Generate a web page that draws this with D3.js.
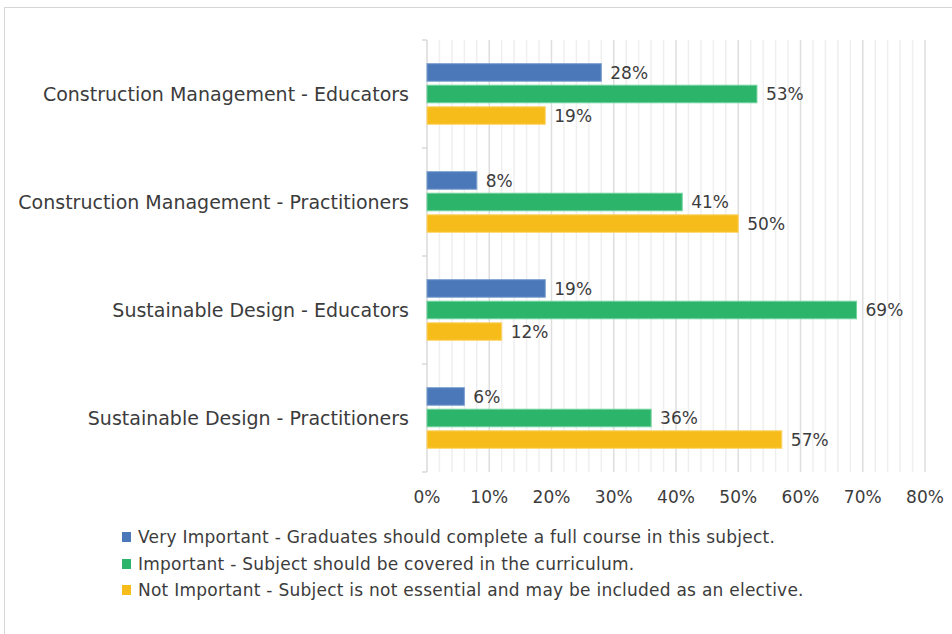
<!DOCTYPE html>
<html>
<head>
<meta charset="utf-8">
<script src="https://cdn.jsdelivr.net/npm/d3@7"></script>
<style>
  html, body { margin: 0; padding: 0; background: #ffffff; }
  svg { display: block; }
  text { font-family: "DejaVu Sans", sans-serif; fill: #3c3c3c; }
</style>
</head>
<body>
<svg id="chart" width="952" height="634"></svg>
<script>
// Survey groups (top to bottom)
const categories = [
  "Construction Management - Educators",
  "Construction Management - Practitioners",
  "Sustainable Design - Educators",
  "Sustainable Design - Practitioners"
];

// Response levels
const seriesNames = [
  "Very Important - Graduates should complete a full course in this subject.",
  "Important - Subject should be covered in the curriculum.",
  "Not Important - Subject is not essential and may be included as an elective."
];

// Share of respondents per group, in percent
const veryImportant = [28, 8, 19, 6];
const important     = [53, 41, 69, 36];
const notImportant  = [19, 50, 12, 57];

const tickValues = [0, 10, 20, 30, 40, 50, 60, 70, 80];

const colors = ["#4a78b8", "#2db46b", "#f6bc1a"];
const strokes = ["#7b9fd0", "#6fd39c", "#fbd56e"];

const seriesValues = [veryImportant, important, notImportant];

const svg = d3.select("#chart");

// outer frame
svg.append("rect")
  .attr("x", 4.5).attr("y", 7.5)
  .attr("width", 1100).attr("height", 800)
  .attr("fill", "none")
  .attr("stroke", "#d6d6d6")
  .attr("stroke-width", 1);

const plot = { left: 427, right: 925, top: 40, bottom: 472 };

const x = d3.scaleLinear().domain([0, 80]).range([plot.left, plot.right]);

const y = d3.scaleBand().domain(categories).range([plot.top, plot.bottom]).padding(0);

const inner = d3.scaleBand()
  .domain(d3.range(seriesNames.length))
  .range([0, y.bandwidth()])
  .paddingInner(0.186)
  .paddingOuter(1.1);

// gridlines: minor every 2%, major every 10%
const minor = d3.range(2, 81, 2).filter(v => v % 10 !== 0);
svg.append("g").selectAll("line").data(minor).join("line")
  .attr("x1", d => x(d)).attr("x2", d => x(d))
  .attr("y1", plot.top).attr("y2", plot.bottom)
  .attr("stroke", "#efefef").attr("stroke-width", 1.5);

svg.append("g").selectAll("line").data(tickValues.filter(v => v > 0)).join("line")
  .attr("x1", d => x(d)).attr("x2", d => x(d))
  .attr("y1", plot.top).attr("y2", plot.bottom)
  .attr("stroke", "#dedede").attr("stroke-width", 1.5);

// category axis line with boundary ticks
const boundaries = categories.map(c => y(c)).concat([plot.bottom]);
svg.append("line")
  .attr("x1", plot.left).attr("x2", plot.left)
  .attr("y1", plot.top).attr("y2", plot.bottom)
  .attr("stroke", "#d0d0d0").attr("stroke-width", 1.2);
svg.append("g").selectAll("line").data(boundaries).join("line")
  .attr("x1", plot.left - 5).attr("x2", plot.left)
  .attr("y1", d => d).attr("y2", d => d)
  .attr("stroke", "#d0d0d0").attr("stroke-width", 1.2);

// bars
const flat = [];
categories.forEach((c, ci) => {
  seriesValues.forEach((vals, si) => {
    flat.push({ cat: c, s: si, v: vals[ci] });
  });
});

svg.append("g").selectAll("rect").data(flat).join("rect")
  .attr("x", x(0))
  .attr("y", d => y(d.cat) + inner(d.s))
  .attr("width", d => x(d.v) - x(0))
  .attr("height", inner.bandwidth())
  .attr("fill", d => colors[d.s])
  .attr("stroke", d => strokes[d.s])
  .attr("stroke-width", 1);

// value labels
svg.append("g").selectAll("text").data(flat).join("text")
  .attr("x", d => x(d.v) + 9)
  .attr("y", d => y(d.cat) + inner(d.s) + inner.bandwidth() / 2)
  .attr("dy", "0.36em")
  .attr("font-size", 17)
  .text(d => d.v + "%");

// category labels
svg.append("g").selectAll("text").data(categories).join("text")
  .attr("x", 409)
  .attr("y", d => y(d) + y.bandwidth() / 2)
  .attr("dy", "0.36em")
  .attr("text-anchor", "end")
  .attr("font-size", 19)
  .text(d => d);

// value axis labels
svg.append("g").selectAll("text").data(tickValues).join("text")
  .attr("x", d => x(d))
  .attr("y", 497)
  .attr("dy", "0.36em")
  .attr("text-anchor", "middle")
  .attr("font-size", 17)
  .text(d => d + "%");

// legend
const legendY = [537, 564, 590];
const legend = svg.append("g").selectAll("g").data(seriesNames).join("g")
  .attr("transform", (d, i) => `translate(122, ${legendY[i]})`);
legend.append("rect")
  .attr("x", 0).attr("y", -5)
  .attr("width", 9).attr("height", 10)
  .attr("fill", (d, i) => colors[i]);
legend.append("text")
  .attr("x", 16).attr("y", 0)
  .attr("dy", "0.36em")
  .attr("font-size", 17)
  .attr("letter-spacing", 0.25)
  .text(d => d);
</script>
</body>
</html>
